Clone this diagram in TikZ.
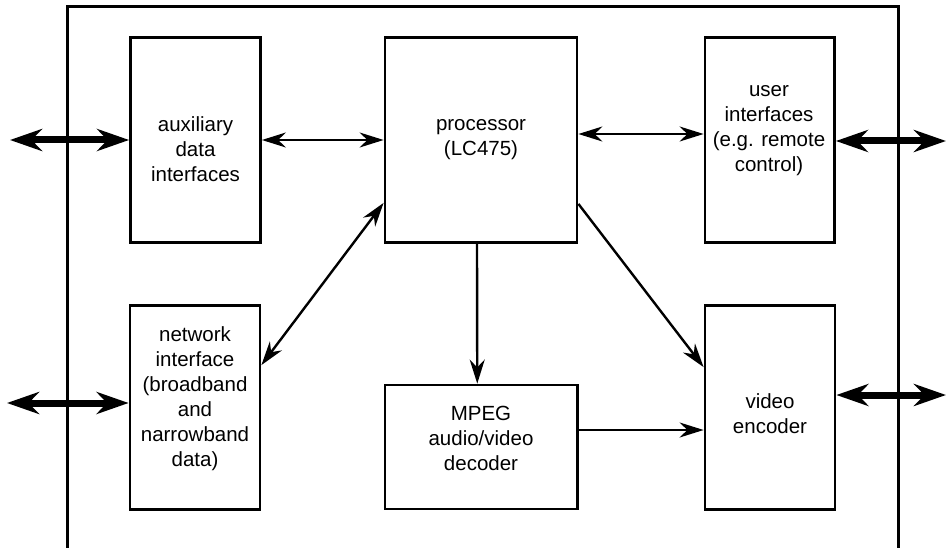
\documentclass[tikz,border=0pt]{standalone}
\usepackage{fontspec}
\setmainfont{Liberation Sans}
\usetikzlibrary{arrows.meta,calc}
\begin{document}
\begin{tikzpicture}[x=1pt,y=-1pt,
  block/.style={draw,line width=2.8pt,inner sep=0pt},
  caption/.style={align=center,font=\fontsize{20.5}{25}\selectfont,inner sep=0pt},
  link/.style={line width=2.4pt,-{Stealth[length=24pt,width=15pt]}},
  biLink/.style={line width=2.4pt,{Stealth[length=24pt,width=15pt]}-{Stealth[length=24pt,width=15pt]}},
  ext/.style={line width=7pt,{Stealth[length=32pt,width=22pt]}-{Stealth[length=32pt,width=22pt]}}]
\useasboundingbox (0,0) rectangle (947,548);

% enclosure (open at the bottom)
\draw[line width=3pt] (67,548) -- (67,7) -- (898,7) -- (898,548);

% blocks
\node[block,minimum width=130pt,minimum height=205pt]   (aux)   at (195.5,140) {};
\node[block,minimum width=192pt,minimum height=205pt]   (proc)  at (481,140)   {};
\node[block,minimum width=129.5pt,minimum height=205pt] (user)  at (769.75,140) {};
\node[block,minimum width=130pt,minimum height=204pt]   (net)   at (195,407.5) {};
\node[block,minimum width=192.5pt,minimum height=124pt] (mpeg)  at (481.25,447) {};
\node[block,minimum width=130pt,minimum height=204pt]   (video) at (770,407.5) {};

% block captions
\node[caption] (auxT)   at (195.5,149) {auxiliary\\data\\interfaces};
\node[caption] (procT)  at (481,140)   {processor\\(LC475)};
\node[caption] (userT)  at (769,131)   {user\\interfaces\\(e.g. remote\\control)};
\node[caption] (netT)   at (195,399)   {network\\interface\\(broadband\\and\\narrowband\\data)};
\node[caption] (mpegT)  at (481,438)   {MPEG\\audio/video\\decoder};
\node[caption] (videoT) at (770,414)   {video\\encoder};

% internal connections
\draw[biLink] (aux.east) -- (aux.east -| proc.west);
\draw[biLink] ($(proc.east)+(0,-6)$) -- ($(user.west)+(0,-6)$);
\draw[biLink] ($(net.north east)+(0,61)$) -- ($(proc.south west)+(0,-41)$);
\draw[link] ($(proc.south east)+(0,-40)$) -- ($(video.north west)+(0,63)$);
\draw[link] ($(proc.south)+(-4,0)$) -- ($(mpeg.north)+(-4,0)$);
\draw[link] ($(mpeg.east)+(0,-17)$) -- ($(mpeg.east -| video.west)+(0,-17)$);

% external interfaces
\coordinate (auxOut)   at (10,140);
\coordinate (netOut)   at (7,403);
\coordinate (userOut)  at (946,141);
\coordinate (videoOut) at (946,395);
\draw[ext] (auxOut) -- (auxOut -| aux.west);
\draw[ext] (netOut) -- (netOut -| net.west);
\draw[ext] (userOut -| user.east) -- (userOut);
\draw[ext] (videoOut -| video.east) -- (videoOut);
\end{tikzpicture}
\end{document}
